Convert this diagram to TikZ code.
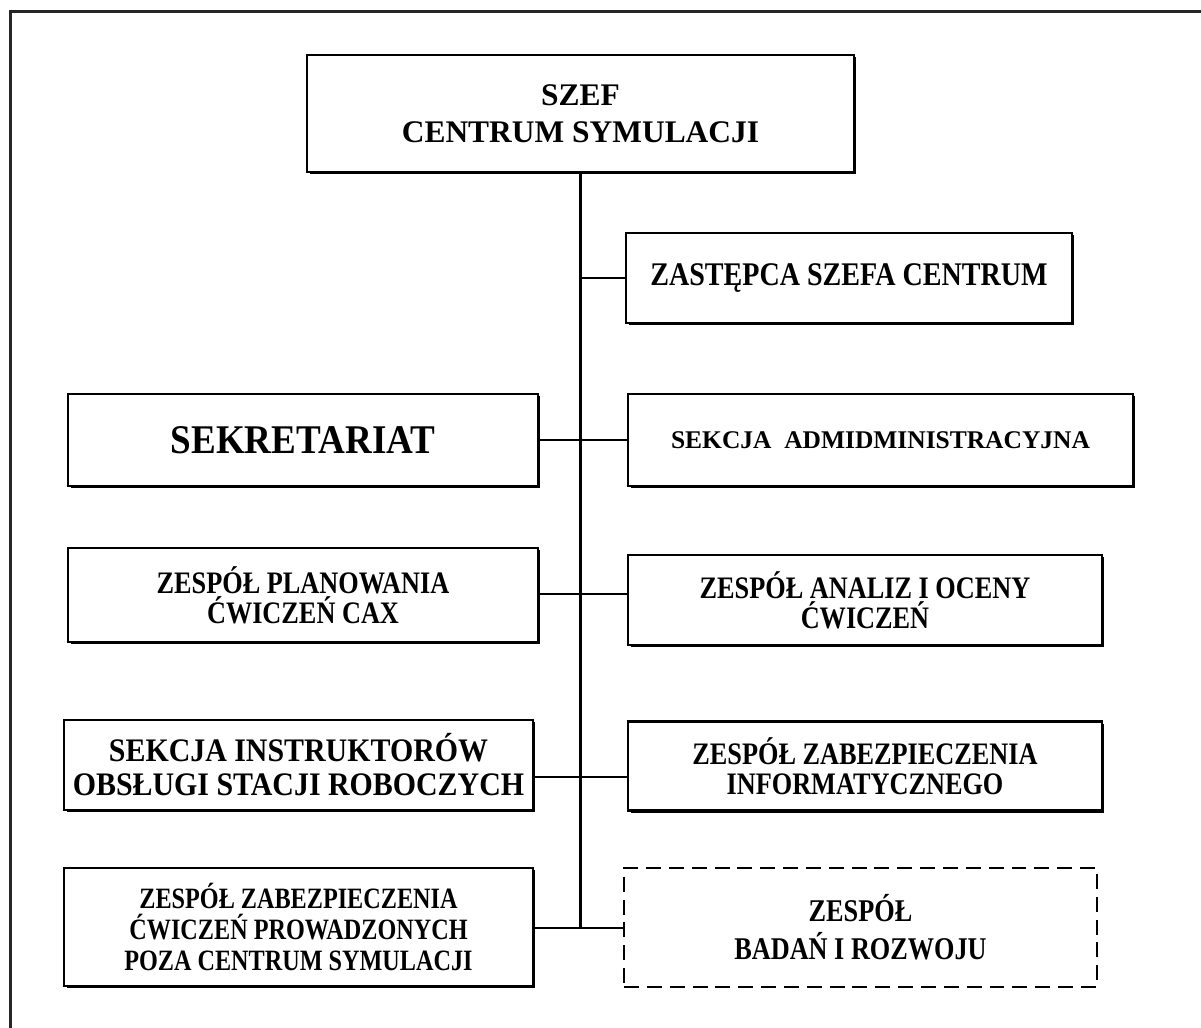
\documentclass[tikz,border=0pt]{standalone}
\usepackage{fontspec}
\setmainfont{Liberation Serif}
% per-box faces (horizontal stretch of the typeset lettering)
\newfontfamily\fTitle{Liberation Serif}
\newfontfamily\fZast{Liberation Serif}[FakeStretch=0.85]
\newfontfamily\fSekr{Liberation Serif}[FakeStretch=0.91]
\newfontfamily\fAdmin{Liberation Serif}[FakeStretch=1.0]
\newfontfamily\fStd{Liberation Serif}[FakeStretch=0.84]
\newfontfamily\fInstr{Liberation Serif}[FakeStretch=0.91]
\newfontfamily\fPoza{Liberation Serif}[FakeStretch=0.82]
\newfontfamily\fBadan{Liberation Serif}[FakeStretch=0.83]
\usetikzlibrary{shadows}

\begin{document}
\begin{tikzpicture}[x=0.02cm,y=-0.02cm,
  unit/.style={draw, line width=1.3pt, fill=white, inner sep=0pt, outer sep=0pt,
    align=center,
    drop shadow={shadow xshift=1.4pt, shadow yshift=-1.4pt, opacity=1, fill=black}},
  planned/.style={draw, line width=1.2pt, dash pattern=on 8.5pt off 4.5pt,
    inner sep=0pt, outer sep=0pt, align=center},
  link/.style={line width=1.5pt},
  frameline/.style={line width=1.4pt, draw=black!85}]

\useasboundingbox (0,0) rectangle (1201,1028);

% page frame (open to the right and bottom)
\draw[frameline] (10.5,1040) -- (10.5,11.5) -- (1215,11.5);

% head of the centre
\node[unit, minimum width=10.94cm, minimum height=2.34cm,
  font=\fTitle\bfseries\fontsize{17.9pt}{20.9pt}\selectfont] (szef) at (580.5,113.5)
  {SZEF\\CENTRUM SYMULACJI};

% right column
\node[unit, minimum width=8.92cm, minimum height=1.8cm,
  font=\fZast\bfseries\fontsize{18.8pt}{21pt}\selectfont] (zast) at (849,278)
  {ZASTĘPCA SZEFA CENTRUM};
\node[unit, minimum width=10.1cm, minimum height=1.84cm,
  font=\fAdmin\bfseries\fontsize{14.5pt}{17pt}\selectfont] (admin) at (880.5,440)
  {SEKCJA\ \ ADMIDMINISTRACYJNA};
\node[unit, minimum width=9.48cm, minimum height=1.8cm,
  font=\fStd\bfseries\fontsize{17.8pt}{17pt}\selectfont] (anal) at (865,600)
  {ZESPÓŁ ANALIZ I OCENY\\ĆWICZEŃ};
\node[unit, minimum width=9.48cm, minimum height=1.78cm,
  font=\fStd\bfseries\fontsize{17.8pt}{17pt}\selectfont] (info) at (865,766)
  {ZESPÓŁ ZABEZPIECZENIA\\INFORMATYCZNEGO};
\node[planned, minimum width=9.46cm, minimum height=2.38cm,
  font=\fBadan\bfseries\fontsize{18pt}{21.6pt}\selectfont] (badan) at (860.5,927.5)
  {ZESPÓŁ\\BADAŃ I ROZWOJU};

% left column
\node[unit, minimum width=9.4cm, minimum height=1.84cm,
  font=\fSekr\bfseries\fontsize{23.2pt}{26pt}\selectfont] (sekr) at (303,440)
  {SEKRETARIAT};
\node[unit, minimum width=9.4cm, minimum height=1.88cm,
  font=\fStd\bfseries\fontsize{17.8pt}{17pt}\selectfont] (plan) at (303,595)
  {ZESPÓŁ PLANOWANIA\\ĆWICZEŃ CAX};
\node[unit, minimum width=9.38cm, minimum height=1.8cm,
  font=\fInstr\bfseries\fontsize{18.7pt}{19.3pt}\selectfont] (instr) at (298.5,765)
  {SEKCJA INSTRUKTORÓW\\OBSŁUGI STACJI ROBOCZYCH};
\node[unit, minimum width=9.38cm, minimum height=2.36cm,
  font=\fPoza\bfseries\fontsize{16.8pt}{17.9pt}\selectfont] (poza) at (298.5,927)
  {ZESPÓŁ ZABEZPIECZENIA\\ĆWICZEŃ PROWADZONYCH\\POZA CENTRUM SYMULACJI};

% connector heights along the trunk
\coordinate (r1) at (580,278);
\coordinate (r2) at (580,440);
\coordinate (r3) at (580,594);
\coordinate (r4) at (580,777);
\coordinate (r5) at (580,928);

% trunk and branches
\draw[link] (szef.south) -- (szef.south |- r5) -- (badan.west |- r5);
\draw[link] (szef.south |- r1) -- (zast.west |- r1);
\draw[link] (sekr.east |- r2) -- (admin.west |- r2);
\draw[link] (plan.east |- r3) -- (anal.west |- r3);
\draw[link] (instr.east |- r4) -- (info.west |- r4);
\draw[link] (poza.east |- r5) -- (szef.south |- r5);
\end{tikzpicture}
\end{document}
